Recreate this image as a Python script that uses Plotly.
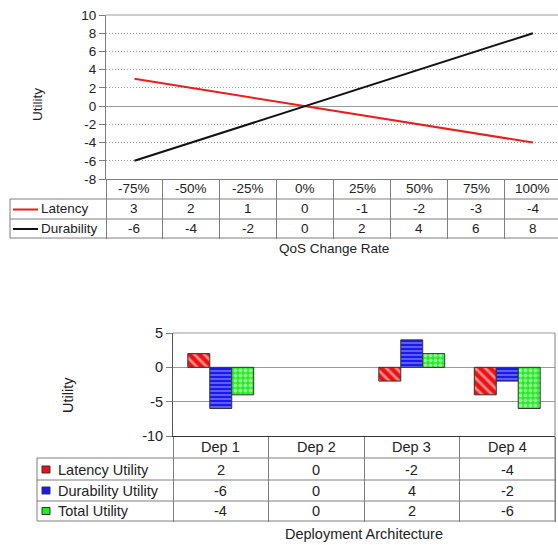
import plotly.graph_objects as go

# ---------------- data ----------------
qos_rates = ["-75%", "-50%", "-25%", "0%", "25%", "50%", "75%", "100%"]
latency = [3, 2, 1, 0, -1, -2, -3, -4]
durability = [-6, -4, -2, 0, 2, 4, 6, 8]

deployments = ["Dep 1", "Dep 2", "Dep 3", "Dep 4"]
latency_utility = [2, 0, -2, -4]
durability_utility = [-6, 0, 4, -2]
total_utility = [-4, 0, 2, -6]

top_yticks = [-8, -6, -4, -2, 0, 2, 4, 6, 8, 10]
bot_yticks = [-10, -5, 0, 5]

# ---------------- layout helpers ----------------
W, H = 558, 545
FONT = "Liberation Sans, Arial, sans-serif"
FS_TOP = 13.5
FS_BOT = 14.5
TXT = "#222222"
GRID = "#9a9a9a"
TBL = "#7f7f7f"


def X(px):
    return px / W


def Y(py):
    return 1 - py / H


def edge_widths(vals):
    # no outline on zero-height bars
    return [0 if v == 0 else 1 for v in vals]


fig = go.Figure()

# ---------------- top line chart ----------------
fig.add_trace(go.Scatter(x=qos_rates, y=latency, mode="lines", name="Latency",
                         line=dict(color="#ee1c1c", width=2), xaxis="x", yaxis="y"))
fig.add_trace(go.Scatter(x=qos_rates, y=durability, mode="lines", name="Durability",
                         line=dict(color="#111111", width=2), xaxis="x", yaxis="y"))

# ---------------- bottom bar chart ----------------
bar_specs = [
    ("Latency Utility", latency_utility, "#ee1111", "\\", 7, 0.4),
    ("Durability Utility", durability_utility, "#1a1aee", "-", 4, 0.3),
    ("Total Utility", total_utility, "#22ee22", ".", 5, 0.5),
]
for name, vals, col, shp, sz, sol in bar_specs:
    fig.add_trace(go.Bar(x=deployments, y=vals, name=name,
                         marker=dict(color=col,
                                     line=dict(color="#333333", width=edge_widths(vals)),
                                     pattern=dict(shape=shp, fgcolor="white", fillmode="overlay",
                                                  size=sz, solidity=sol)),
                         xaxis="x2", yaxis="y2"))

top_ann = []
bot_ann = []
shapes = []

# ----- top chart table -----
for i, q in enumerate(qos_rates):
    top_ann.append(dict(x=q, xref="x", y=Y(189), yref="paper", text=q))
    top_ann.append(dict(x=q, xref="x", y=Y(209), yref="paper", text=str(latency[i])))
    top_ann.append(dict(x=q, xref="x", y=Y(228.5), yref="paper", text=str(durability[i])))

for name, py, col in [("Latency", 209, "#ee1c1c"), ("Durability", 228.5, "#111111")]:
    top_ann.append(dict(x=X(39), xref="paper", xanchor="left", y=Y(py), yref="paper", text=name))
    shapes.append(dict(type="line", xref="paper", yref="paper", x0=X(13), x1=X(38),
                       y0=Y(py + 0.5), y1=Y(py + 0.5), line=dict(color=col, width=2)))

for py in [199, 219, 238]:
    shapes.append(dict(type="line", xref="paper", yref="paper", x0=X(10), x1=1,
                       y0=Y(py), y1=Y(py), line=dict(color=TBL, width=1)))
shapes.append(dict(type="line", xref="paper", yref="paper", x0=X(10), x1=X(10),
                   y0=Y(199), y1=Y(238), line=dict(color=TBL, width=1)))
shapes.append(dict(type="line", xref="x domain", yref="y domain", x0=0, x1=1, y0=1, y1=1,
                   line=dict(color=GRID, width=1)))

top_ann.append(dict(x=X(38), xref="paper", y=Y(105), yref="paper", text="Utility", textangle=-90))
top_ann.append(dict(x=X(334), xref="paper", y=Y(248), yref="paper", text="QoS Change Rate"))

# ----- bottom chart table -----
for i, d in enumerate(deployments):
    bot_ann.append(dict(x=d, xref="x2", y=Y(447), yref="paper", text=d))
    bot_ann.append(dict(x=d, xref="x2", y=Y(469.5), yref="paper", text=str(latency_utility[i])))
    bot_ann.append(dict(x=d, xref="x2", y=Y(490.5), yref="paper", text=str(durability_utility[i])))
    bot_ann.append(dict(x=d, xref="x2", y=Y(511), yref="paper", text=str(total_utility[i])))

for (name, vals, col, shp, sz, sol), py in zip(bar_specs, [469.5, 490.5, 511]):
    bot_ann.append(dict(x=X(56), xref="paper", xanchor="left", y=Y(py), yref="paper", text=name))
    shapes.append(dict(type="rect", xref="paper", yref="paper", x0=X(42), x1=X(50),
                       y0=Y(py - 3.5), y1=Y(py + 3.5), fillcolor=col,
                       line=dict(color="#333333", width=1)))

for py in [458, 480, 501, 521]:
    shapes.append(dict(type="line", xref="paper", yref="paper", x0=X(37), x1=X(555),
                       y0=Y(py), y1=Y(py), line=dict(color=TBL, width=1)))
shapes.append(dict(type="line", xref="paper", yref="paper", x0=X(37), x1=X(37),
                   y0=Y(458), y1=Y(521), line=dict(color=TBL, width=1)))
shapes.append(dict(type="line", xref="x2 domain", yref="y2 domain", x0=0, x1=1, y0=1, y1=1,
                   line=dict(color=GRID, width=1)))
shapes.append(dict(type="line", xref="x2 domain", yref="paper", x0=1, x1=1, y0=Y(521), y1=Y(333),
                   line=dict(color=TBL, width=1)))

bot_ann.append(dict(x=X(68), xref="paper", y=Y(395), yref="paper", text="Utility", textangle=-90))
bot_ann.append(dict(x=X(364), xref="paper", y=Y(534), yref="paper", text="Deployment Architecture"))

for group, fs in [(top_ann, FS_TOP), (bot_ann, FS_BOT)]:
    for a in group:
        a["font"] = dict(size=fs, color=TXT, family=FONT)
        a["showarrow"] = False
        a["yanchor"] = "middle"
        a.setdefault("xanchor", "center")

fig.update_layout(
    width=W, height=H, autosize=False,
    margin=dict(l=0, r=0, t=0, b=0, pad=0),
    paper_bgcolor="white", plot_bgcolor="white",
    showlegend=False,
    font=dict(family=FONT, size=FS_TOP, color=TXT),
    barmode="group", bargap=0.31, bargroupgap=0,
    xaxis=dict(domain=[X(106), 1], type="category", categoryarray=qos_rates,
               range=[-0.5, 7.44], tickson="boundaries", ticks="outside", ticklen=59,
               tickcolor=TBL, showticklabels=False, showline=True, linecolor=TBL,
               showgrid=False, zeroline=False, anchor="y", automargin=False),
    yaxis=dict(domain=[Y(179), Y(15)], range=[-8, 10], tickvals=top_yticks,
               ticktext=[str(v) for v in top_yticks],
               ticks="outside", ticklen=6, tickcolor=TBL, showline=True, linecolor=TBL,
               showgrid=True, gridcolor=GRID, griddash="1px,2px", gridwidth=1,
               zeroline=True, zerolinecolor=GRID, zerolinewidth=1,
               tickfont=dict(size=FS_TOP, color=TXT), anchor="x", automargin=False),
    xaxis2=dict(domain=[X(173), X(555)], type="category", categoryarray=deployments,
                range=[-0.5, 3.5], tickson="boundaries", ticks="outside", ticklen=85,
                tickcolor=TBL, showticklabels=False, showline=True, linecolor="#333333",
                showgrid=False, zeroline=False, anchor="y2", automargin=False),
    yaxis2=dict(domain=[Y(436), Y(333)], range=[-10, 5], tickvals=bot_yticks,
                ticktext=[str(v) for v in bot_yticks],
                ticks="outside", ticklen=6, tickcolor=TBL, showline=True, linecolor="#555555",
                showgrid=True, gridcolor=GRID, gridwidth=1,
                zeroline=True, zerolinecolor=GRID, zerolinewidth=1,
                tickfont=dict(size=FS_BOT, color=TXT), anchor="x2", automargin=False),
    annotations=top_ann + bot_ann,
    shapes=shapes,
)

fig.write_html("out.html", config={"displayModeBar": False},
               post_script="document.body.style.margin='0';document.body.style.overflow='hidden';")
